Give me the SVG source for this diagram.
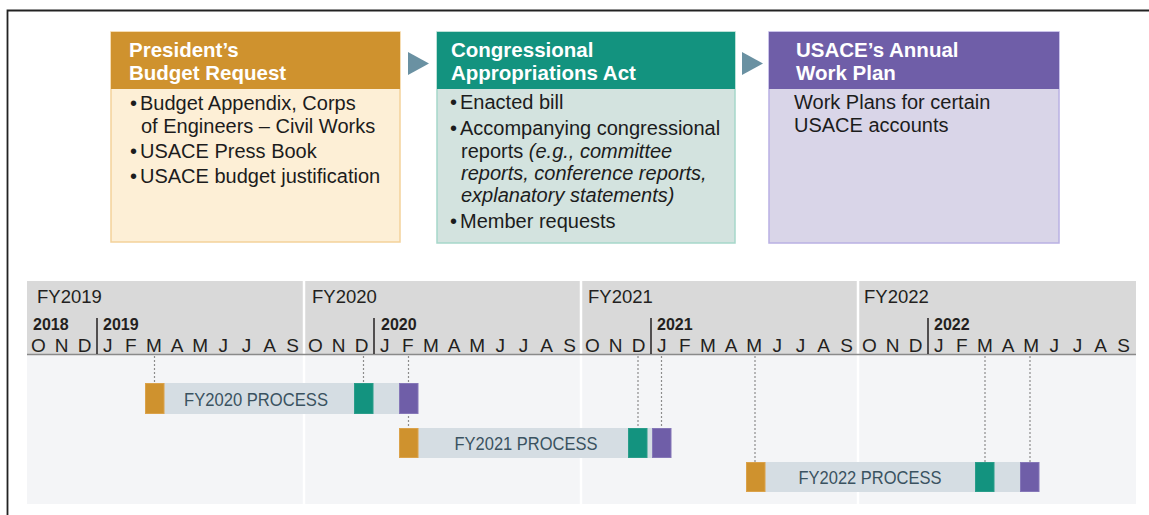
<svg xmlns="http://www.w3.org/2000/svg" width="1149" height="515" viewBox="0 0 1149 515">
<style>
text{font-family:"Liberation Sans",Arial,sans-serif}
.hd{font-size:20.5px;font-weight:bold;fill:#fff}
.bd{font-size:20px;fill:#1c1c1c}
.it{font-style:italic}
.fy{font-size:18.5px;fill:#231f20}
.yr{font-size:16px;font-weight:bold;fill:#231f20}
.mo{font-size:19px;fill:#231f20;text-anchor:middle}
.pr{font-size:18.5px;fill:#3a5260;text-anchor:middle}
.dot{stroke:#8c8c8c;stroke-width:1.2;stroke-dasharray:2 2;fill:none}
.ysep{stroke:#231f20;stroke-width:1.5}
.bar{fill:#d5dde3}
.or{fill:#cf922e;stroke:#dba24a;stroke-width:1}
.te{fill:#13937f;stroke:#2a9d8a;stroke-width:1}
.pu{fill:#6f5ea8;stroke:#8577b8;stroke-width:1}
.arr{fill:#6a91a2}
</style>
<rect width="1149" height="515" fill="#fff"/>
<path d="M7.5,515 V10.5 H1149" fill="none" stroke="#222" stroke-width="1.8"/>

<g id="node-president">
<rect x="111" y="32" width="289" height="210" fill="#fdefd6" stroke="#f3d29a" stroke-width="1.5"/>
<rect x="111" y="32" width="289" height="57" fill="#cf922e"/>
<text class="hd" x="129" y="57">President’s</text>
<text class="hd" x="129" y="80">Budget Request</text>
<text class="bd"><tspan x="130" y="110">•</tspan><tspan x="140" y="110">Budget Appendix, Corps</tspan></text>
<text class="bd" x="141" y="133">of Engineers – Civil Works</text>
<text class="bd"><tspan x="130" y="158">•</tspan><tspan x="140" y="158">USACE Press Book</tspan></text>
<text class="bd"><tspan x="130" y="183">•</tspan><tspan x="140" y="183">USACE budget justification</tspan></text>
</g>

<g id="node-congress">
<rect x="437" y="32" width="298" height="211" fill="#d3e3df" stroke="#a6d7ca" stroke-width="1.5"/>
<rect x="437" y="32" width="298" height="57" fill="#13937f"/>
<text class="hd" x="451" y="57">Congressional</text>
<text class="hd" x="451" y="80">Appropriations Act</text>
<text class="bd"><tspan x="450" y="109">•</tspan><tspan x="460" y="109">Enacted bill</tspan></text>
<text class="bd"><tspan x="450" y="135">•</tspan><tspan x="460" y="135">Accompanying congressional</tspan></text>
<text class="bd" x="461" y="158">reports <tspan class="it">(e.g., committee</tspan></text>
<text class="bd it" x="461" y="180">reports, conference reports,</text>
<text class="bd it" x="461" y="202">explanatory statements)</text>
<text class="bd"><tspan x="450" y="228">•</tspan><tspan x="460" y="228">Member requests</tspan></text>
</g>

<g id="node-workplan">
<rect x="769" y="32" width="290" height="211" fill="#d9d5e8" stroke="#b9b0e3" stroke-width="1.5"/>
<rect x="769" y="32" width="290" height="57" fill="#6f5ea8"/>
<text class="hd" x="796" y="57">USACE’s Annual</text>
<text class="hd" x="796" y="80">Work Plan</text>
<text class="bd" x="794" y="109">Work Plans for certain</text>
<text class="bd" x="794" y="132">USACE accounts</text>
</g>

<g id="timeline-axis">
<rect x="27" y="281" width="1109" height="73" fill="#d9d9d9"/>
<rect x="27" y="354" width="1109" height="150" fill="#f4f5f7"/>
<g stroke="#fff" stroke-width="2.5">
<line x1="304" y1="281" x2="304" y2="504"/>
<line x1="581" y1="281" x2="581" y2="504"/>
<line x1="858" y1="281" x2="858" y2="504"/>
</g>
<line x1="27" y1="354.5" x2="1136" y2="354.5" stroke="#8a8a8a" stroke-width="1.5"/>
<text class="fy" x="37" y="303">FY2019</text>
<text class="fy" x="312" y="303">FY2020</text>
<text class="fy" x="588" y="303">FY2021</text>
<text class="fy" x="864" y="303">FY2022</text>
<text class="yr" x="33" y="330">2018</text>
<text class="yr" x="103" y="330">2019</text>
<text class="yr" x="381" y="330">2020</text>
<text class="yr" x="657" y="330">2021</text>
<text class="yr" x="934" y="330">2022</text>
<line class="ysep" x1="97" y1="318" x2="97" y2="354"/>
<line class="ysep" x1="374" y1="318" x2="374" y2="354"/>
<line class="ysep" x1="651" y1="318" x2="651" y2="354"/>
<line class="ysep" x1="928" y1="318" x2="928" y2="354"/>
<g class="mo">
<text x="38.5" y="352">O</text><text x="61.6" y="352">N</text><text x="84.7" y="352">D</text><text x="107.8" y="352">J</text><text x="130.9" y="352">F</text><text x="154" y="352">M</text><text x="177.1" y="352">A</text><text x="200.2" y="352">M</text><text x="223.3" y="352">J</text><text x="246.4" y="352">J</text><text x="269.5" y="352">A</text><text x="292.6" y="352">S</text>
<text x="315.5" y="352">O</text><text x="338.6" y="352">N</text><text x="361.7" y="352">D</text><text x="384.8" y="352">J</text><text x="407.9" y="352">F</text><text x="431" y="352">M</text><text x="454.1" y="352">A</text><text x="477.2" y="352">M</text><text x="500.3" y="352">J</text><text x="523.4" y="352">J</text><text x="546.5" y="352">A</text><text x="569.6" y="352">S</text>
<text x="592.5" y="352">O</text><text x="615.6" y="352">N</text><text x="638.7" y="352">D</text><text x="661.8" y="352">J</text><text x="684.9" y="352">F</text><text x="708" y="352">M</text><text x="731.1" y="352">A</text><text x="754.2" y="352">M</text><text x="777.3" y="352">J</text><text x="800.4" y="352">J</text><text x="823.5" y="352">A</text><text x="846.6" y="352">S</text>
<text x="869.5" y="352">O</text><text x="892.6" y="352">N</text><text x="915.7" y="352">D</text><text x="938.8" y="352">J</text><text x="961.9" y="352">F</text><text x="985" y="352">M</text><text x="1008.1" y="352">A</text><text x="1031.2" y="352">M</text><text x="1054.3" y="352">J</text><text x="1077.4" y="352">J</text><text x="1100.5" y="352">A</text><text x="1123.6" y="352">S</text>
</g>
</g>

<g id="connectors">
<polygon class="arr" points="408,52 429,63.5 408,75"/>
<polygon class="arr" points="742,52 763,63.5 742,75"/>
<line class="dot" x1="154.5" y1="356" x2="154.5" y2="383"/>
<line class="dot" x1="363.5" y1="356" x2="363.5" y2="383"/>
<line class="dot" x1="408.5" y1="356" x2="408.5" y2="428"/>
<line class="dot" x1="638" y1="356" x2="638" y2="428"/>
<line class="dot" x1="661.5" y1="356" x2="661.5" y2="428"/>
<line class="dot" x1="755" y1="356" x2="755" y2="462"/>
<line class="dot" x1="985" y1="356" x2="985" y2="462"/>
<line class="dot" x1="1030" y1="356" x2="1030" y2="462"/>
</g>

<g id="node-fy2020">
<rect class="bar" x="145" y="383" width="273" height="31"/>
<rect class="or" x="145.5" y="383.5" width="18.5" height="30"/>
<rect class="te" x="354.5" y="383.5" width="18.5" height="30"/>
<rect class="pu" x="399.5" y="383.5" width="18.5" height="30"/>
<text class="pr" x="256" y="406" textLength="144" lengthAdjust="spacingAndGlyphs">FY2020 PROCESS</text>
</g>
<g id="node-fy2021">
<rect class="bar" x="399" y="428" width="272" height="30"/>
<rect class="or" x="399.5" y="428.5" width="18.5" height="29"/>
<rect class="te" x="628.5" y="428.5" width="18.5" height="29"/>
<rect class="pu" x="652.5" y="428.5" width="18.5" height="29"/>
<text class="pr" x="526" y="450" textLength="143" lengthAdjust="spacingAndGlyphs">FY2021 PROCESS</text>
</g>
<g id="node-fy2022">
<rect class="bar" x="746" y="462" width="293" height="30"/>
<rect class="or" x="746.5" y="462.5" width="18.5" height="29"/>
<rect class="te" x="975.5" y="462.5" width="18.5" height="29"/>
<rect class="pu" x="1020.5" y="462.5" width="18.5" height="29"/>
<text class="pr" x="870" y="484" textLength="143" lengthAdjust="spacingAndGlyphs">FY2022 PROCESS</text>
</g>
</svg>
